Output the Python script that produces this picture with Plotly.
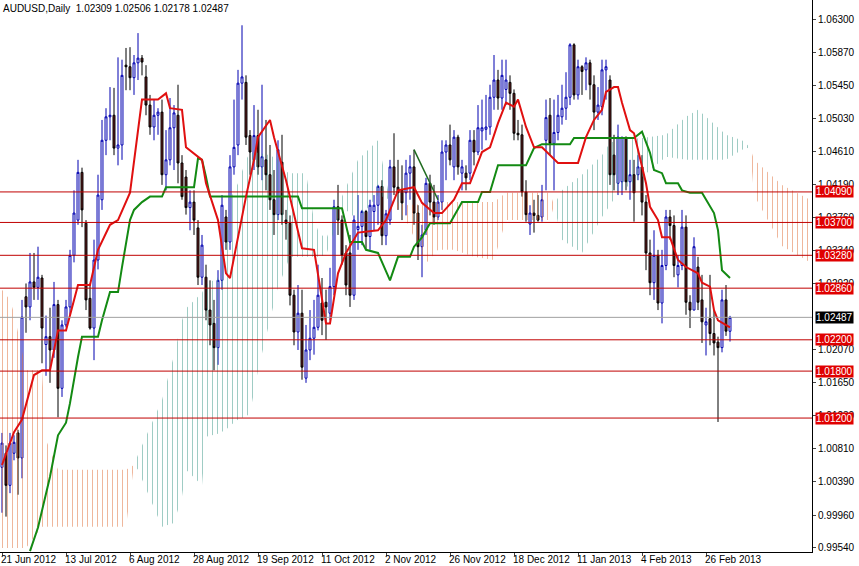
import plotly.graph_objects as go

# Daily OHLC AUDUSD, from 21 Jun 2012 (index 0) to the last bar
o = [1.0057, 1.0075, 1.0034, 1.0075, 1.0101, 1.0069, 1.0275, 1.0262, 1.0294, 1.0287,
     1.0299, 1.0214, 1.0224, 1.0207, 1.0265, 1.0158, 1.0239, 1.0262, 1.0328, 1.0373,
     1.0434, 1.0369, 1.0273, 1.0235, 1.0322, 1.0399, 1.0475, 1.0505, 1.0507, 1.0465,
     1.0469, 1.0571, 1.0569, 1.0555, 1.0574, 1.0580, 1.0556, 1.0520, 1.0492, 1.0507,
     1.0511, 1.0431, 1.0450, 1.0491, 1.0507, 1.0446, 1.0428, 1.0389, 1.0396, 1.0363,
     1.0300, 1.0300, 1.0258, 1.0241, 1.0210, 1.0296, 1.0377, 1.0345, 1.0441, 1.0469,
     1.0548, 1.0549, 1.0481, 1.0450, 1.0481, 1.0441, 1.0450, 1.0431, 1.0399, 1.0380,
     1.0447, 1.0373, 1.0369, 1.0277, 1.0230, 1.0254, 1.0171, 1.0207, 1.0222, 1.0236,
     1.0267, 1.0268, 1.0254, 1.0288, 1.0390, 1.0373, 1.0331, 1.0331, 1.0277, 1.0361,
     1.0365, 1.0384, 1.0352, 1.0384, 1.0392, 1.0416, 1.0353, 1.0373, 1.0441, 1.0415,
     1.0411, 1.0408, 1.0433, 1.0441, 1.0382, 1.0339, 1.0360, 1.0420, 1.0396, 1.0377,
     1.0396, 1.0460, 1.0469, 1.0441, 1.0479, 1.0433, 1.0433, 1.0433, 1.0475, 1.0460,
     1.0487, 1.0489, 1.0492, 1.0530, 1.0552, 1.0529, 1.0540, 1.0549, 1.0535, 1.0484,
     1.0482, 1.0409, 1.0368, 1.0382, 1.0379, 1.0377, 1.0475, 1.0507, 1.0471, 1.0485,
     1.0505, 1.0516, 1.0530, 1.0597, 1.0533, 1.0569, 1.0565, 1.0574, 1.0546, 1.0511,
     1.0518, 1.0565, 1.0552, 1.0456, 1.0420, 1.0422, 1.0479, 1.0422, 1.0431, 1.0431,
     1.0441, 1.0396, 1.0331, 1.0293, 1.0328, 1.0267, 1.0315, 1.0377, 1.0366, 1.0303,
     1.0315, 1.0364, 1.0268, 1.0258, 1.0313, 1.0271, 1.0239, 1.0247, 1.0228, 1.0217,
     1.0210, 1.0271, 1.02309]
h = [1.0101, 1.0085, 1.0101, 1.0098, 1.0105, 1.0271, 1.0292, 1.0331, 1.0331, 1.0339,
     1.0303, 1.0251, 1.0261, 1.0294, 1.0271, 1.0245, 1.0271, 1.0335, 1.0411, 1.0450,
     1.0440, 1.0373, 1.0292, 1.0348, 1.0431, 1.0501, 1.0516, 1.0543, 1.0542, 1.0581,
     1.0578, 1.0593, 1.0594, 1.0584, 1.0612, 1.0584, 1.0571, 1.0533, 1.0527, 1.0516,
     1.0527, 1.0488, 1.0529, 1.0520, 1.0546, 1.0456, 1.0437, 1.0411, 1.0411, 1.0373,
     1.0354, 1.0316, 1.0296, 1.0271, 1.0309, 1.0405, 1.0386, 1.0456, 1.0527, 1.0565,
     1.0622, 1.0558, 1.0488, 1.0520, 1.0514, 1.0546, 1.0501, 1.0469, 1.0437, 1.0475,
     1.0482, 1.0386, 1.0379, 1.0284, 1.0290, 1.0284, 1.0239, 1.0258, 1.0271, 1.0316,
     1.0299, 1.0284, 1.0312, 1.0399, 1.0418, 1.0379, 1.0341, 1.0354, 1.0379, 1.0405,
     1.0386, 1.0386, 1.0399, 1.0405, 1.0418, 1.0424, 1.0386, 1.0450, 1.0484, 1.0450,
     1.0443, 1.0450, 1.0456, 1.0463, 1.0392, 1.0367, 1.0427, 1.0431, 1.0418, 1.0405,
     1.0475, 1.0475, 1.0495, 1.0488, 1.0482, 1.0450, 1.0443, 1.0488, 1.0488, 1.0520,
     1.0527, 1.0533, 1.0546, 1.0584, 1.0565, 1.0578, 1.0578, 1.0558, 1.0540, 1.0501,
     1.0495, 1.0424, 1.0392, 1.0399, 1.0405, 1.0418, 1.0527, 1.0529, 1.0527, 1.0533,
     1.0546, 1.0562, 1.0599, 1.0599, 1.0578, 1.0571, 1.0581, 1.0578, 1.0558, 1.0543,
     1.0578, 1.0578, 1.0558, 1.0482, 1.0495, 1.0479, 1.0479, 1.0450, 1.0450, 1.0456,
     1.0456, 1.0405, 1.0348, 1.0360, 1.0335, 1.0335, 1.0386, 1.0386, 1.0379, 1.0328,
     1.0386, 1.0379, 1.0277, 1.0351, 1.0326, 1.0303, 1.0261, 1.0303, 1.0258, 1.0224,
     1.0284, 1.0290, 1.02506]
l = [0.9999, 0.9994, 1.0024, 1.0066, 1.0022, 1.0043, 1.0229, 1.0245, 1.0271, 1.0271,
     1.0190, 1.0174, 1.0165, 1.0197, 1.0121, 1.0147, 1.0236, 1.0252, 1.0319, 1.0367,
     1.0364, 1.0258, 1.0233, 1.0194, 1.0310, 1.0386, 1.0456, 1.0475, 1.0456, 1.0443,
     1.0450, 1.0539, 1.0539, 1.0533, 1.0552, 1.0558, 1.0507, 1.0482, 1.0475, 1.0482,
     1.0418, 1.0411, 1.0443, 1.0437, 1.0420, 1.0399, 1.0380, 1.0360, 1.0354, 1.0290,
     1.0290, 1.0245, 1.0213, 1.0181, 1.0188, 1.0284, 1.0335, 1.0335, 1.0431, 1.0456,
     1.0527, 1.0469, 1.0431, 1.0437, 1.0431, 1.0424, 1.0411, 1.0386, 1.0354, 1.0373,
     1.0367, 1.0348, 1.0264, 1.0213, 1.0207, 1.0169, 1.0165, 1.0194, 1.0201, 1.0232,
     1.0226, 1.0220, 1.0245, 1.0277, 1.0354, 1.0316, 1.0277, 1.0262, 1.0271, 1.0335,
     1.0341, 1.0335, 1.0335, 1.0360, 1.0367, 1.0341, 1.0341, 1.0367, 1.0405, 1.0386,
     1.0373, 1.0379, 1.0399, 1.0367, 1.0322, 1.0300, 1.0354, 1.0379, 1.0367, 1.0373,
     1.0386, 1.0424, 1.0443, 1.0424, 1.0431, 1.0411, 1.0411, 1.0424, 1.0443, 1.0456,
     1.0463, 1.0475, 1.0482, 1.0514, 1.0514, 1.0514, 1.0520, 1.0514, 1.0475, 1.0475,
     1.0403, 1.0371, 1.0354, 1.0357, 1.0371, 1.0371, 1.0411, 1.0456, 1.0411, 1.0475,
     1.0495, 1.0501, 1.0520, 1.0527, 1.0527, 1.0533, 1.0539, 1.0527, 1.0488, 1.0501,
     1.0507, 1.0527, 1.0418, 1.0411, 1.0405, 1.0405, 1.0411, 1.0399, 1.0371, 1.0424,
     1.0379, 1.0309, 1.0277, 1.0271, 1.0258, 1.0241, 1.0309, 1.0348, 1.0300, 1.0287,
     1.0309, 1.0252, 1.0235, 1.0258, 1.0258, 1.0216, 1.0200, 1.0213, 1.0200, 1.0115,
     1.0204, 1.0225, 1.02178]
c = [1.0088, 1.0034, 1.0088, 1.0089, 1.0069, 1.0249, 1.0262, 1.0294, 1.0287, 1.0300,
     1.0235, 1.0224, 1.0207, 1.0265, 1.0158, 1.0239, 1.0262, 1.0328, 1.0382, 1.0434,
     1.0386, 1.0271, 1.0235, 1.0322, 1.0405, 1.0475, 1.0505, 1.0507, 1.0465, 1.0469,
     1.0558, 1.0569, 1.0555, 1.0574, 1.0580, 1.0575, 1.0520, 1.0492, 1.0507, 1.0511,
     1.0431, 1.0450, 1.0491, 1.0510, 1.0446, 1.0403, 1.0389, 1.0396, 1.0373, 1.0300,
     1.0341, 1.0258, 1.0239, 1.0210, 1.0296, 1.0392, 1.0345, 1.0441, 1.0466, 1.0548,
     1.0556, 1.0479, 1.0460, 1.0481, 1.0441, 1.0454, 1.0431, 1.0399, 1.0380, 1.0463,
     1.0380, 1.0369, 1.0277, 1.0230, 1.0254, 1.0185, 1.0207, 1.0222, 1.0236, 1.0277,
     1.0245, 1.0262, 1.0288, 1.0390, 1.0373, 1.0328, 1.0290, 1.0277, 1.0373, 1.0365,
     1.0384, 1.0352, 1.0392, 1.0392, 1.0416, 1.0353, 1.0381, 1.0441, 1.0415, 1.0408,
     1.0395, 1.0433, 1.0441, 1.0382, 1.0339, 1.0354, 1.0420, 1.0396, 1.0377, 1.0396,
     1.0460, 1.0469, 1.0450, 1.0479, 1.0441, 1.0441, 1.0427, 1.0475, 1.0460, 1.0491,
     1.0491, 1.0492, 1.0530, 1.0552, 1.0529, 1.0558, 1.0552, 1.0535, 1.0484, 1.0482,
     1.0409, 1.0380, 1.0382, 1.0379, 1.0373, 1.0399, 1.0504, 1.0471, 1.0485, 1.0507,
     1.0516, 1.0530, 1.0597, 1.0533, 1.0569, 1.0563, 1.0574, 1.0546, 1.0511, 1.0520,
     1.0565, 1.0569, 1.0431, 1.0431, 1.0479, 1.0479, 1.0422, 1.0431, 1.0408, 1.0441,
     1.0396, 1.0331, 1.0293, 1.0328, 1.0267, 1.0315, 1.0377, 1.0366, 1.0315, 1.0315,
     1.0364, 1.0268, 1.0258, 1.0339, 1.0268, 1.0243, 1.0243, 1.0228, 1.0216, 1.0210,
     1.0271, 1.0231, 1.02487]

# Tenkan-sen (red) vertices
tenkan_x = [0, 3, 5, 8, 10, 12, 14, 16, 19, 22, 24, 27, 29, 31, 32, 35, 39, 41, 42, 45,
            46, 50, 51, 54, 56, 57, 61, 63, 64, 67, 68, 71, 75, 78, 81, 82, 84, 86, 89, 94,
            96, 99, 103, 105, 108, 110, 113, 115, 117, 120, 122, 124, 126, 128, 129, 131, 133, 135, 139, 144,
            146, 148, 150, 151, 153, 154, 155, 157, 158, 159, 161, 162, 164, 165, 167, 169, 171, 174, 175, 177,
            178, 179, 182]
tenkan_y = [1.0060, 1.0102, 1.0118, 1.0175, 1.0181, 1.0181, 1.0232, 1.0232, 1.0290, 1.0290,
            1.0335, 1.0367, 1.0373, 1.0395, 1.0408, 1.0527, 1.0527, 1.0535, 1.0516, 1.0514,
            1.0466, 1.0450, 1.0420, 1.0373, 1.0305, 1.0299, 1.0403, 1.0450, 1.0479, 1.0501,
            1.0479, 1.0424, 1.0337, 1.0335, 1.0241, 1.0241, 1.0305, 1.0331, 1.0357, 1.0360,
            1.0373, 1.0411, 1.0415, 1.0395, 1.0382, 1.0382, 1.0399, 1.0420, 1.0420, 1.0460,
            1.0466, 1.0497, 1.0523, 1.0518, 1.0527, 1.0492, 1.0466, 1.0466, 1.0446, 1.0446,
            1.0479, 1.0501, 1.0514, 1.0537, 1.0543, 1.0543, 1.0523, 1.0488, 1.0484, 1.0463,
            1.0420, 1.0390, 1.0373, 1.0351, 1.0351, 1.0322, 1.0313, 1.0305, 1.0293, 1.0288,
            1.0258, 1.0245, 1.0236]

# Kijun-sen (green) vertices
kijun_x = [7, 9, 12, 14, 16, 17, 19, 20, 24, 25, 27, 29, 30, 32, 33, 35, 37, 40, 41, 48,
           49, 50, 51, 52, 74, 75, 85, 87, 90, 91, 94, 97, 99, 102, 103, 105, 107, 112, 115, 119,
           120, 122, 124, 131, 133, 135, 142, 143, 158, 160, 162, 163, 165, 166, 169, 170, 172, 175, 178, 179,
           180, 182]
kijun_y = [0.9950, 0.9980, 1.0045, 1.0098, 1.0114, 1.0139, 1.0198, 1.0224, 1.0224, 1.0245,
           1.0281, 1.0281, 1.0313, 1.0373, 1.0386, 1.0396, 1.0403, 1.0403, 1.0415, 1.0415,
           1.0452, 1.0450, 1.0428, 1.0403, 1.0403, 1.0388, 1.0388, 1.0345, 1.0345, 1.0335,
           1.0331, 1.0296, 1.0326, 1.0326, 1.0339, 1.0351, 1.0369, 1.0369, 1.0396, 1.0396,
           1.0409, 1.0409, 1.0443, 1.0443, 1.0465, 1.0470, 1.0470, 1.0478, 1.0478, 1.0486,
           1.0459, 1.0437, 1.0433, 1.0420, 1.0420, 1.0411, 1.0408, 1.0408, 1.0382, 1.0360,
           1.0309, 1.0299]

# short chikou piece
chikou_x = [103, 109]
chikou_y = [1.0463, 1.0399]

# Kumo segments: (x, upper, lower, colour)
kumo = [
    ([0, 2, 3, 6, 10, 11, 14, 31, 33],
     [1.0284, 1.0271, 1.0254, 1.0181, 1.0181, 1.0092, 1.0054, 1.0054, 1.0060],
     [0.9954, 0.9954, 0.9954, 0.9954, 0.9981, 0.9981, 0.9981, 0.9981, 1.0060], 'orange'),
    ([33, 34, 40, 43, 45, 46, 50, 51, 54, 56, 57, 59, 61, 62, 64, 67, 69, 70, 72, 76, 78, 79, 81, 85, 89, 94, 97],
     [1.0060, 1.0073, 1.0143, 1.0200, 1.0245, 1.0260, 1.0280, 1.0290, 1.0300, 1.0350, 1.0399, 1.0420, 1.0450, 1.0459,
      1.0459, 1.0456, 1.0450, 1.0437, 1.0433, 1.0433, 1.0373, 1.0360, 1.0348, 1.0403, 1.0450, 1.0475, 1.0399],
     [1.0060, 1.0054, 0.9981, 0.9986, 1.0020, 1.0054, 1.0034, 1.0096, 1.0100, 1.0105, 1.0110, 1.0118, 1.0122, 1.0126,
      1.0181, 1.0245, 1.0288, 1.0300, 1.0326, 1.0326, 1.0326, 1.0326, 1.0328, 1.0390, 1.0373, 1.0405, 1.0399], 'teal'),
    ([97, 101, 106, 109, 113, 118, 123, 126, 137, 138],
     [1.0399, 1.0392, 1.0394, 1.0396, 1.0396, 1.0396, 1.0396, 1.0408, 1.0408, 1.0392],
     [1.0399, 1.0373, 1.0318, 1.0335, 1.0335, 1.0326, 1.0322, 1.0373, 1.0373, 1.0392], 'orange'),
    ([138, 140, 145, 150, 152, 154, 160, 166, 171, 174, 176, 181, 185, 187],
     [1.0392, 1.0411, 1.0431, 1.0456, 1.0472, 1.0475, 1.0478, 1.0482, 1.0505, 1.0514, 1.0505, 1.0482, 1.0475, 1.0466],
     [1.0392, 1.0348, 1.0331, 1.0377, 1.0392, 1.0408, 1.0428, 1.0454, 1.0450, 1.0450, 1.0450, 1.0450, 1.0463, 1.0466], 'teal'),
    ([187, 188, 195, 202],
     [1.0466, 1.0450, 1.0418, 1.0399],
     [1.0466, 1.0405, 1.0340, 1.0319], 'orange'),
]
kumo_colors = {'orange': '#e0703a', 'teal': '#3f9a8a'}

levels = [1.0409, 1.0370, 1.0328, 1.0286, 1.0220, 1.0180, 1.0120]
last_price = 1.02487

price_ticks = [1.06300, 1.05870, 1.05450, 1.05030, 1.04610, 1.04190, 1.03760, 1.03340,
               1.02920, 1.02070, 1.01650, 1.01230, 1.00810, 1.00390, 0.99960, 0.99540]
date_pos = [0, 16, 32, 48, 64, 80, 96, 112, 128, 144, 160, 176]
date_labels = ['21 Jun 2012', '13 Jul 2012', '6 Aug 2012', '28 Aug 2012', '19 Sep 2012',
               '11 Oct 2012', '2 Nov 2012', '26 Nov 2012', '18 Dec 2012', '11 Jan 2013',
               '4 Feb 2013', '26 Feb 2013']

FONT = 'Liberation Sans'

fig = go.Figure()

# nuvem (kumo) com hachura vertical
for xs, up, lo, col in kumo:
    fig.add_trace(go.Scatter(x=xs, y=lo, mode='lines', line=dict(width=0), hoverinfo='skip'))
    fig.add_trace(go.Scatter(
        x=xs, y=up, mode='lines', line=dict(width=0), fill='tonexty', fillcolor='rgba(0,0,0,0)',
        fillpattern=dict(shape='|', fgcolor=kumo_colors[col], bgcolor='rgba(0,0,0,0)', size=5, solidity=0.2),
        hoverinfo='skip'))

fig.add_trace(go.Candlestick(
    x=list(range(len(c))), open=o, high=h, low=l, close=c,
    increasing=dict(line=dict(color='#0000b0', width=1), fillcolor='white'),
    decreasing=dict(line=dict(color='#000000', width=1), fillcolor='#6b1c1c'),
    whiskerwidth=0))

fig.add_trace(go.Scatter(x=kijun_x, y=kijun_y, mode='lines', line=dict(color='#138a13', width=2)))
fig.add_trace(go.Scatter(x=chikou_x, y=chikou_y, mode='lines', line=dict(color='#1f6b1f', width=1.5)))
fig.add_trace(go.Scatter(x=tenkan_x, y=tenkan_y, mode='lines', line=dict(color='#e01010', width=2)))

shapes = []
annots = []
for lv in levels:
    shapes.append(dict(type='line', xref='paper', x0=0, x1=1, y0=lv, y1=lv,
                       line=dict(color='#c00000', width=1)))
    annots.append(dict(xref='paper', x=1.0, y=lv, xanchor='left', yanchor='middle', text=f'{lv:.5f}',
                       showarrow=False, bgcolor='#e00000', font=dict(color='white', size=10, family=FONT),
                       borderpad=0, xshift=3))
shapes.append(dict(type='line', xref='paper', x0=0, x1=1, y0=last_price, y1=last_price,
                   line=dict(color='#a0a0a0', width=1)))
annots.append(dict(xref='paper', x=1.0, y=last_price, xanchor='left', yanchor='middle',
                   text=f'{last_price:.5f}', showarrow=False, bgcolor='black',
                   font=dict(color='white', size=10, family=FONT), borderpad=0, xshift=3))

for p, t in zip(date_pos, date_labels):
    annots.append(dict(x=p, xref='x', y=0, yref='paper', yanchor='top', xanchor='left', text=t,
                       showarrow=False, font=dict(size=10, color='black', family=FONT),
                       xshift=-3, yshift=0))

annots.append(dict(xref='paper', yref='paper', x=0, y=1, xanchor='left', yanchor='top',
                   text='AUDUSD,Daily  1.02309 1.02506 1.02178 1.02487', showarrow=False,
                   font=dict(size=10, color='black', family=FONT), xshift=1, yshift=-1))

fig.update_layout(
    width=859, height=566,
    margin=dict(l=0, r=47, t=0, b=14),
    paper_bgcolor='white', plot_bgcolor='white',
    font=dict(family=FONT, size=10, color='black'),
    showlegend=False,
    shapes=shapes, annotations=annots,
    xaxis=dict(range=[-0.5, 202.5], rangeslider=dict(visible=False), showgrid=False, zeroline=False,
               tickvals=date_pos, showticklabels=False, ticks='outside', ticklen=3,
               showline=True, linecolor='black', mirror=True),
    yaxis=dict(range=[0.99488, 1.06543], side='right', showgrid=False, zeroline=False,
               tickvals=price_ticks, ticktext=[f'{v:.5f}' for v in price_ticks],
               tickfont=dict(size=10, family=FONT),
               ticks='outside', ticklen=3, showline=True, linecolor='black', mirror=True),
)

# tirar a margem padrão da página para a figura ocupar a janela toda
fig.write_html("out.html", config={'displayModeBar': False},
               post_script="document.body.style.margin='0';document.body.style.overflow='hidden';")
